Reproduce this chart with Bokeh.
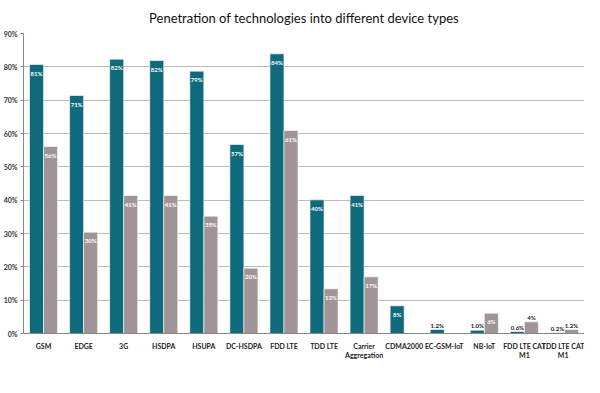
from bokeh.plotting import figure
from bokeh.models import ColumnDataSource, FactorRange, Legend, LegendItem, PrintfTickFormatter, FixedTicker
from bokeh.transform import dodge
from bokeh.core.properties import value
from bokeh.embed import file_html
from bokeh.resources import INLINE

categories = ["GSM", "EDGE", "3G", "HSDPA", "HSUPA", "DC-HSDPA", "FDD LTE", "TDD LTE",
              "Carrier\nAggregation", "CDMA2000", "EC-GSM-IoT", "NB-IoT",
              "FDD LTE CAT\nM1", "TDD LTE CAT\nM1"]
all_devices = [80.7, 71.4, 82.3, 81.9, 78.7, 56.7, 83.9, 40.1, 41.4, 8.3, 1.2, 1.0, 0.6, 0.2]
modules = [56.1, 30.4, 41.4, 41.4, 35.2, 19.6, 60.9, 13.4, 17.0, 0.0, 0.0, 6.1, 3.5, 1.2]
all_labels = ["81%", "71%", "82%", "82%", "79%", "57%", "84%", "40%", "41%", "8%", "1.2%", "1.0%", "0.6%", "0.2%"]
mod_labels = ["56%", "30%", "41%", "41%", "35%", "20%", "61%", "13%", "17%", "", "", "6%", "4%", "1.2%"]
y_ticks = [0, 10, 20, 30, 40, 50, 60, 70, 80, 90]

TEAL = "#0f6a7c"
GREY = "#a09496"
FONT = "Lato"

src = ColumnDataSource(dict(cat=categories, a=all_devices, m=modules))

p = figure(x_range=FactorRange(factors=categories), y_range=(0, 90), width=584, height=377,
           output_backend="svg", toolbar_location=None,
           title="Penetration of technologies into different device types")
p.title.align = "center"
p.title.text_font = FONT
p.title.text_font_size = "13px"
p.title.text_font_style = "normal"
p.title.text_color = "#111111"
p.title.standoff = 15
p.min_border_left = 0
p.min_border_right = 0
p.min_border_top = 2
p.min_border_bottom = 44

r1 = p.vbar(x=dodge("cat", -0.175, range=p.x_range), top="a", width=0.35, source=src,
            fill_color=TEAL, line_color="white", line_width=0.6)
r2 = p.vbar(x=dodge("cat", 0.175, range=p.x_range), top="m", width=0.35, source=src,
            fill_color=GREY, line_color="white", line_width=0.6)

def label_sets(vals, labels):
    inside = dict(cat=[], y=[], t=[])
    outside = dict(cat=[], y=[], t=[])
    for c, v, t in zip(categories, vals, labels):
        if not t:
            continue
        d = inside if v >= 5 else outside
        d["cat"].append(c); d["y"].append(v); d["t"].append(t)
    return inside, outside

for vals, labels, off in [(all_devices, all_labels, -0.175), (modules, mod_labels, 0.175)]:
    ins, outs = label_sets(vals, labels)
    s_in = ColumnDataSource(ins)
    s_out = ColumnDataSource(outs)
    p.text(x=dodge("cat", off, range=p.x_range), y="y", text="t", source=s_in,
           text_font=value(FONT), text_font_size="6px", text_font_style="bold",
           text_color="white", text_align="center", text_baseline="top", y_offset=5)
    p.text(x=dodge("cat", off, range=p.x_range), y="y", text="t", source=s_out,
           text_font=value(FONT), text_font_size="6px", text_font_style="bold",
           text_color="#222222", text_align="center", text_baseline="bottom", y_offset=-1)

p.yaxis.ticker = FixedTicker(ticks=y_ticks)
p.yaxis.formatter = PrintfTickFormatter(format="%d%%")
p.yaxis.major_label_text_font = FONT
p.yaxis.major_label_text_font_size = "7px"
p.yaxis.major_label_text_font_style = "bold"
p.yaxis.major_label_text_color = "#333333"
p.yaxis.axis_line_color = "#888888"
p.yaxis.major_tick_line_color = "#888888"
p.yaxis.major_tick_in = 0
p.yaxis.major_tick_out = 3
p.yaxis.minor_tick_line_color = None
p.yaxis.major_label_standoff = 3

p.xaxis.major_label_text_font = FONT
p.xaxis.major_label_text_font_size = "7px"
p.xaxis.major_label_text_font_style = "bold"
p.xaxis.major_label_text_color = "#222222"
p.xaxis.axis_line_color = "#888888"
p.xaxis.major_tick_line_color = None
p.xaxis.major_label_standoff = 2

p.xgrid.grid_line_color = None
p.ygrid.grid_line_color = "#bbbbbb"
p.ygrid.grid_line_width = 1
p.outline_line_color = None
p.x_range.range_padding = 0.0
p.x_range.factor_padding = 0.0

legend = Legend(items=[LegendItem(label='"All devices"', renderers=[r1]),
                       LegendItem(label="Modules", renderers=[r2])],
                orientation="horizontal", location=(225, -41))
legend.label_text_font = FONT
legend.label_text_font_size = "8px"
legend.label_text_font_style = "bold"
legend.label_text_color = "#222222"
legend.glyph_width = 7
legend.glyph_height = 7
legend.spacing = 10
legend.border_line_color = None
legend.background_fill_alpha = 0
legend.padding = 2
legend.margin = 0
legend.label_standoff = 2
legend.label_height = 10
p.add_layout(legend, "center")

open("out.html", "w").write(file_html(p, INLINE))
